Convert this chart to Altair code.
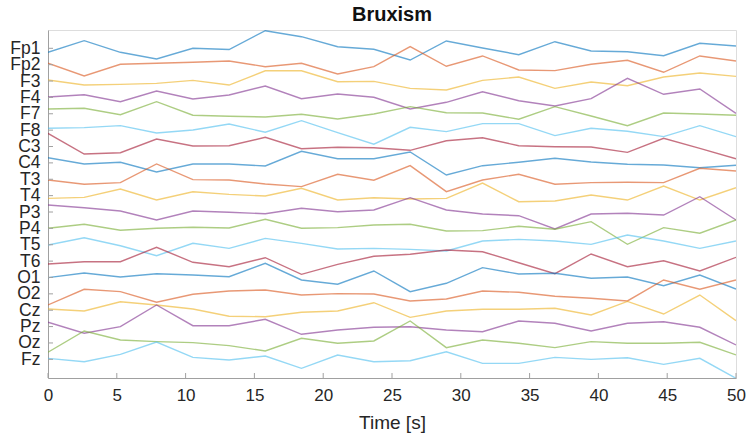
import altair as alt
import pandas as pd

channels = ["Fp1", "Fp2", "F3", "F4", "F7", "F8", "C3", "C4", "T3", "T4",
            "P3", "P4", "T5", "T6", "O1", "O2", "Cz", "Pz", "Oz", "Fz"]

time_s = [0, 2.63, 5.26, 7.89, 10.53, 13.16, 15.79, 18.42, 21.05, 23.68,
          26.32, 28.95, 31.58, 34.21, 36.84, 39.47, 42.11, 44.74, 47.37, 50]

signals = {
    "Fp1": [-4, 7.6, -4, -10.7, 0, -1.2, 17.6, 11.6, 1.6, -1, -11.7, 7.3, 0.3, -6.4, 6.6, -2.7, -3.4, -7.4, 5, 2.3],
    "Fp2": [1.4, -11.3, 0.4, 1.4, 2.4, 3.7, -2, 1.4, -9.3, -2, 18, -1.6, 8.7, -5.3, -6, 0.4, 4.4, -7.6, 8.7, 3.7],
    "F3": [1, -4, -3.3, -2.3, 0.7, -4, 10.3, 10.3, -0.7, -0.3, -7.3, -9, 0.7, 4, -7.3, -1, -4.7, 4, 8, 4.7],
    "F4": [0.4, 2.7, -4.3, 6.4, -1.6, 2.4, 11.4, -1.3, 3.4, 0.1, -11.6, -4.9, 5.7, -3.3, -8.6, -1.3, 19.1, 3.1, 8.4, -15.9],
    "F7": [4.8, 5.5, -0.9, 12.1, -1.5, -2.5, -3.2, -0.5, -5.2, -0.2, 7.1, 1.1, 0.8, -5.5, 7.1, -2.2, -11.9, 0.8, -0.2, -1.5],
    "F8": [1.9, 2.5, 4.5, -2.8, 0.2, 6.1, -2.1, 9.5, -2.5, -14.1, 2.9, -1.5, 6.5, 6.5, -5.5, 1.9, -1.1, -6.5, 4.5, -6.5],
    "C3": [13.2, -7.5, -6.2, 7.5, 0.5, 0.8, 9.2, -2.2, -0.8, -1.2, -3.8, 5.8, 8.8, 0.8, -0.2, -0.5, -5.8, 8.2, -1.8, -12.2],
    "C4": [5.2, -1.1, 0.6, -9.1, -1.1, -1.1, -3.1, 11.6, 4.2, 4.2, 10.9, -12.1, -2.8, 0.6, 4.6, 0.9, -1.4, -2.1, -4.8, -2.4],
    "T3": [-0.7, -5, -3.4, 15.3, -0.4, -0.7, -4.7, -7.4, 5, -1, 13.6, -12.4, -0.7, 5, -5, -3.4, -3, -3.4, 11, 8.3],
    "T4": [-2.7, -1.7, 6.6, -4.4, 3.9, 1.3, -0.4, 7.3, -4.4, -2.1, -3.4, -2.7, 12.6, -6.1, -5.4, 0.6, -4.4, 9.6, -4.4, 7.9],
    "P3": [7, 4.3, 1, -8, 1, -0.3, -1.7, 3.7, 0.3, 2, 14.3, 2, -2, -3.7, -17, -2, -1.3, -3, 15.3, -8],
    "P4": [0.1, 4.1, -1.9, 0.1, 1.1, 0.4, 9.1, 0.1, 0.7, 3.4, 4.1, -2.6, -2.3, 2.1, -0.9, 6.7, -15.9, 0.7, -4.9, 8.4],
    "T5": [-0.3, 7, -1, -11, 1.4, -3.6, 6.4, 1.4, -4.3, -3.6, -4.6, -6.3, 3.7, 5.4, 3.7, 0.4, 9.7, 3.7, -3.6, 3.7],
    "T6": [-2.9, -0.6, -0.6, 13.8, -1.2, -5.6, 3.4, -13.2, -3.2, 4.8, 6.8, 11.1, 9.4, -1.6, -12.6, 7.1, -5.6, 0.4, -9.9, 3.8],
    "O1": [-0.2, 4.5, 0.5, 3.8, 2.5, 0.8, 14.2, -2.5, -6.8, 6.5, -14.2, -5.8, 9.8, 3.5, 4.2, -0.8, 0.5, -8.2, 2.5, -11.5],
    "O2": [-11.1, 4.6, 2.2, -8.4, -0.4, 2.9, 3.9, -1.1, 0.2, -0.1, -7.1, -5.1, 2.9, 1.6, -2.4, -4.4, -7.1, 13.9, 4.6, 13.9],
    "Cz": [1.2, -0.8, 8.5, 5.2, 1.2, -6, -6.5, -2.1, -0.8, 7.5, -7.1, -0.8, 0.9, 0.9, 1.9, -4.8, 8.8, -3.8, 15.2, -10.5],
    "Pz": [4.3, -6.7, -0.1, 21.6, 0.9, 0.9, 7.3, -7.7, -3.4, -0.7, -0.1, -3.4, -5.1, 5.6, 3.3, -4.4, 3.3, 4.9, -0.7, -18.4],
    "Oz": [-9.3, 12, 3, 1.3, 0.3, -2.7, -8, 4.7, -0.3, 2, 22, -4.7, 3, -0.3, -4.7, 1.3, -0.3, -0.3, 0.7, -12],
    "Fz": [1, -2.4, 5, 17.3, 2, -0.7, 3.3, -9, 4.3, -2.4, -1.4, 7.6, -4, -4, 2, 0, 1.6, -5, 1, -19],
}

x_ticks = [0, 5, 10, 15, 20, 25, 30, 35, 40, 45, 50]
matlab_colors = ["#0072BD", "#D95319", "#EDB120", "#7E2F8E", "#77AC30", "#4DBEEE", "#A2142F"]

SPACING = 16.37  # vertical offset between channels (signal units)
W, H = 688, 348

rows = []
for k, ch in enumerate(channels):
    for t, v in zip(time_s, signals[ch]):
        rows.append({"channel": ch, "order": k, "time": t, "pos": v - k * SPACING})
df = pd.DataFrame(rows)

baseline_vals = [round(-k * SPACING, 2) for k in range(len(channels))]
names_js = "[" + ",".join("'%s'" % c for c in channels) + "]"

x_scale = alt.Scale(domain=[0, 50], nice=False, zero=False)
y_scale = alt.Scale(domain=[-329.7, 18.3], nice=False, zero=False)

font = "Liberation Sans"
axis_gray = "#a0a0a0"

x_axis = alt.Axis(values=x_ticks, tickSize=0, labelPadding=9, titlePadding=10,
                  labelFontSize=17, titleFontSize=19, titleFontWeight="normal",
                  labelColor="#262626", titleColor="#262626",
                  domainColor=axis_gray, labelFont=font, titleFont=font,
                  labelOverlap=False, labelFlush=False, grid=False)
y_axis = alt.Axis(values=baseline_vals, tickSize=0, labelPadding=8,
                  labelFontSize=17.5, labelColor="#262626", labelFont=font,
                  domainColor=axis_gray, grid=False, labelOverlap=False,
                  labelSeparation=0, labelBound=False, labelFlush=False,
                  labelExpr=names_js + "[round(-datum.value / %s)]" % SPACING)

lines = alt.Chart(df).mark_line(strokeWidth=1.4, opacity=0.6, clip=True).encode(
    x=alt.X("time:Q", scale=x_scale, title="Time [s]", axis=x_axis),
    y=alt.Y("pos:Q", scale=y_scale, title=None, axis=y_axis),
    color=alt.Color("channel:N", scale=alt.Scale(domain=channels,
                    range=[matlab_colors[k % 7] for k in range(len(channels))]),
                    legend=None),
    detail="channel:N",
    order="order:Q",
)

xt = pd.DataFrame({"tick": x_ticks})
x_tick_marks = alt.Chart(xt).mark_rule(color=axis_gray, strokeWidth=1).encode(
    x=alt.X("tick:Q", scale=x_scale, title="Time [s]", axis=x_axis),
    y=alt.value(H), y2=alt.value(H - 5),
)

yt = pd.DataFrame({"tick": baseline_vals})
y_tick_marks = alt.Chart(yt).mark_rule(color=axis_gray, strokeWidth=1).encode(
    y=alt.Y("tick:Q", scale=y_scale, title=None, axis=y_axis),
    x=alt.value(0), x2=alt.value(5),
)

chart = alt.layer(lines, x_tick_marks, y_tick_marks).properties(
    width=W, height=H,
    title=alt.TitleParams("Bruxism", fontSize=20, fontWeight="bold", font=font,
                          color="#111111", anchor="middle", offset=5),
    autosize=alt.AutoSizeParams(type="none"),
    padding={"left": 48, "top": 30, "right": 11, "bottom": 56},
).configure_view(stroke=None).configure(background="white")

chart.save("out.html", embed_options={"renderer": "svg", "actions": False})
